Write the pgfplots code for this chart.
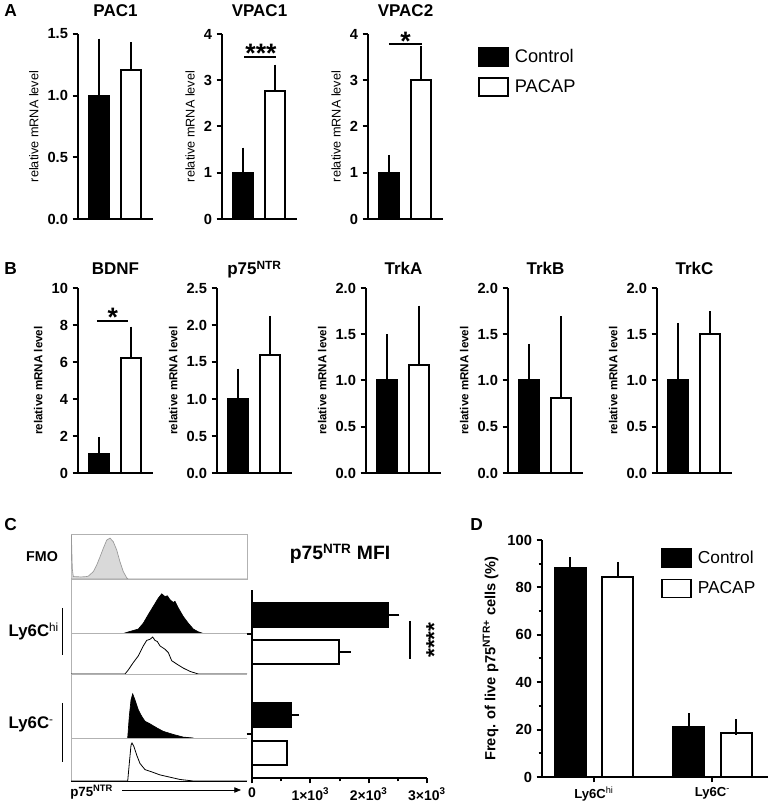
\documentclass[border=0pt]{standalone}
\usepackage{fontspec}
\setmainfont{Liberation Sans}
\usepackage{pgfplots}
\pgfplotsset{compat=1.18}
\usetikzlibrary{arrows.meta}

\newcommand{\fs}[1]{\fontsize{#1}{#1}\selectfont}
\def\H{803}

\pgfplotsset{
  gp/.style={
    scale only axis, anchor=south west, clip=false,
    axis lines=left, axis line style={-, line width=1.5pt},
    tick align=outside, major tick length=4pt, minor tick length=2.5pt,
    tick style={black, line width=1.5pt},
    tick label style={font=\bfseries\fs{11}},
    /pgf/number format/assume math mode=true,
  },
  mrna/.style={gp, width=56.25pt, height=138.75pt,
    xmin=0.36, xmax=2.7, xtick=\empty, ymin=0,
    ylabel={relative mRNA level}, ylabel style={font=\fs{9.5}},
    every axis title/.style={at={(0.5,1)}, anchor=base, yshift=#1, font=\bfseries\fs{12.75}}},
  mrnaB/.style={mrna=9.75pt, ylabel style={font=\bfseries\fs{8.7}}},
  dec/.style={yticklabel style={/pgf/number format/fixed, /pgf/number format/fixed zerofill, /pgf/number format/precision=1}},
  bars/.style={ybar, bar shift=0pt, bar width=15pt, draw=black, line width=1.5pt,
    error bars/y dir=plus, error bars/y explicit,
    error bars/error bar style={line width=1.5pt, black},
    error bars/error mark options={line width=1.5pt, black, mark size=4pt}},
  legbox/.style={legend image code/.code={\draw[##1] (0pt,-6.75pt) rectangle (21.75pt,6.75pt);}},
  leg/.style={legend style={draw=none, fill=none, inner sep=0pt, column sep=4.5pt, row sep=8pt,
    nodes={inner sep=0pt}, font=\fs{#1}}, legend cell align=left},
  hist/.style={scale only axis, anchor=south west, width=132pt, xmin=0, xmax=176, ymin=0,
    ticks=none, axis line style={-, gray!60, line width=0.7pt}},
  histl/.style={hist, axis x line=bottom, axis y line=left, axis line style={-}},
}

\begin{document}
\begin{tikzpicture}[x=0.75pt,y=0.75pt]
\path[use as bounding box] (0,0) rectangle (768,803);
\coordinate (a1) at (78,\H-219);
\coordinate (a2) at (222,\H-219);
\coordinate (a3) at (368,\H-219);
\coordinate (b1) at (78,\H-473);
\coordinate (b2) at (217,\H-473);
\coordinate (b3) at (366,\H-473);
\coordinate (b4) at (508,\H-473);
\coordinate (b5) at (657,\H-473);
\coordinate (h1) at (71,\H-579);
\coordinate (h2) at (71,\H-633);
\coordinate (h3) at (71,\H-674);
\coordinate (h4) at (71,\H-738);
\coordinate (h5) at (71,\H-781);
\coordinate (cb) at (252,\H-778);
\coordinate (dd) at (542,\H-777);

% ---------------- A ----------------
\begin{axis}[mrna=12.75pt, dec, at={(a1)}, ymax=1.5, ytick={0,0.5,1,1.5}, title={PAC1}]
\addplot[bars, fill=black] coordinates {(1,1.0) +- (0,0.42)};
\addplot[bars, fill=white] coordinates {(2,1.21) +- (0,0.18)};
\end{axis}

\begin{axis}[mrna=12.75pt, at={(a2)}, ymax=4, ytick={0,1,2,3,4}, title={VPAC1}]
\addplot[bars, fill=black] coordinates {(1,1.0) +- (0,0.43)};
\addplot[bars, fill=white] coordinates {(2,2.77) +- (0,0.45)};
\draw[line width=1pt] (axis cs:1.05,3.50) -- (axis cs:2.05,3.50);
\node[anchor=base, font=\bfseries\fs{20}] at (axis cs:1.577,3.38) {***};
\end{axis}

\begin{axis}[mrna=12.75pt, at={(a3)}, ymax=4, ytick={0,1,2,3,4}, title={VPAC2},
  leg=13.7, legend style={at={(axis description cs:1.467,0.93)}, anchor=north west}]
\addplot[bars, fill=black, forget plot] coordinates {(1,1.0) +- (0,0.27)};
\addplot[bars, fill=white, forget plot] coordinates {(2,3.01) +- (0,0.62)};
\draw[line width=1pt] (axis cs:1.015,3.784) -- (axis cs:2.045,3.784);
\node[anchor=base, font=\bfseries\fs{20}] at (axis cs:1.53,3.64) {*};
\addlegendimage{legbox, fill=black, draw=black, line width=1.2pt}
\addlegendentry{Control}
\addlegendimage{legbox, fill=white, draw=black, line width=1.2pt}
\addlegendentry{PACAP}
\end{axis}

% ---------------- B ----------------
\begin{axis}[mrnaB, at={(b1)}, ymax=10, ytick={0,2,4,6,8,10}, title={BDNF}]
\addplot[bars, fill=black] coordinates {(1,1.0) +- (0,0.67)};
\addplot[bars, fill=white] coordinates {(2,6.22) +- (0,1.40)};
\draw[line width=1pt] (axis cs:0.95,8.22) -- (axis cs:1.92,8.22);
\node[anchor=base, font=\bfseries\fs{20}] at (axis cs:1.45,7.91) {*};
\end{axis}

\begin{axis}[mrnaB, dec, at={(b2)}, ymax=2.5, ytick={0,0.5,1,1.5,2,2.5}, title={p75\textsuperscript{NTR}}]
\addplot[bars, fill=black] coordinates {(1,1.0) +- (0,0.34)};
\addplot[bars, fill=white] coordinates {(2,1.60) +- (0,0.45)};
\end{axis}

\begin{axis}[mrnaB, dec, at={(b3)}, ymax=2, ytick={0,0.5,1,1.5,2}, title={TrkA}]
\addplot[bars, fill=black] coordinates {(1,1.0) +- (0,0.445)};
\addplot[bars, fill=white] coordinates {(2,1.168) +- (0,0.583)};
\end{axis}

\begin{axis}[mrnaB, dec, at={(b4)}, ymax=2, ytick={0,0.5,1,1.5,2}, title={TrkB}]
\addplot[bars, fill=black] coordinates {(1,1.0) +- (0,0.337)};
\addplot[bars, fill=white] coordinates {(2,0.814) +- (0,0.822)};
\end{axis}

\begin{axis}[mrnaB, dec, at={(b5)}, ymax=2, ytick={0,0.5,1,1.5,2}, title={TrkC}]
\addplot[bars, fill=black] coordinates {(1,1.0) +- (0,0.564)};
\addplot[bars, fill=white] coordinates {(2,1.50) +- (0,0.19)};
\end{axis}

% ---------------- C: histograms ----------------
\begin{axis}[hist, at={(h1)}, height=33.75pt, ymax=110]
\addplot[fill=gray!30, draw=gray!80, line width=0.5pt] coordinates {
 (0,0) (0.4,108) (1.3,25) (2.3,6) (10,5) (15.7,6) (17.3,7) (22.3,18) (25.7,34) (29,54)
 (32.3,75) (35.7,95) (39,100) (42.3,91) (45.7,71) (49,42) (52.3,18) (55.7,3) (57.3,0) (176,0)} \closedcycle;
\end{axis}
\begin{axis}[histl, at={(h2)}, height=40.5pt, ymax=138]
\addplot[fill=black, draw=black, line width=0.5pt] coordinates {
 (54,0) (59,4) (67.3,10) (72.3,25) (77.3,47) (82.3,68) (87.3,89) (90.7,100) (94,93) (96.3,95)
 (99,85) (102.3,78) (104,81) (107.3,64) (112.3,42) (117.3,25) (122.3,10) (127.3,3) (130.7,0)} \closedcycle;
\end{axis}
\begin{axis}[histl, at={(h3)}, height=30.75pt, ymax=111]
\addplot[draw=black, line width=0.6pt] coordinates {
 (0,0) (54,0) (57.3,11) (62.3,31) (67.3,49) (72.3,76) (75.7,91) (79,94) (81.7,100) (84,91)
 (86.3,88) (89,76) (94,67) (97.3,58) (100.7,36) (105.7,27) (112.3,16) (119,7) (127.3,0) (176,0)};
\end{axis}
\begin{axis}[histl, at={(h4)}, height=48pt, ymax=145]
\addplot[fill=black, draw=black, line width=0.5pt] coordinates {
 (56.7,0) (58.3,49) (60,86) (61.7,100) (64,86) (67.3,64) (70.7,49) (74,38) (79,32) (85.7,23)
 (92.3,15) (102.3,8) (112.3,2) (122.3,0)} \closedcycle;
\end{axis}
\begin{axis}[histl, at={(h5)}, height=32.25pt, ymax=113, x axis line style={black}]
\addplot[draw=black, line width=0.6pt] coordinates {
 (0,0) (56.7,0) (58.3,46) (60,94) (61,100) (63,90) (65.7,68) (69,46) (74,30) (80.7,24)
 (89,16) (99,10) (109,4) (122.3,0) (176,0)};
\end{axis}

\node[anchor=base, font=\bfseries\fs{10.7}] at (42,\H-562) {FMO};
\node[anchor=base west, font=\bfseries\fs{12.6}] at (4,\H-637) {Ly6C\textsuperscript{\mdseries hi}};
\node[anchor=base west, font=\bfseries\fs{12.6}] at (4,\H-729) {Ly6C\textsuperscript{\mdseries -}};
\draw[line width=1pt] (62.7,\H-608) -- (62.7,\H-655);
\draw[line width=1pt] (62.7,\H-703) -- (62.7,\H-762);
\node[anchor=base west, font=\bfseries\fs{10}, inner sep=0pt] at (70,\H-796) {p75\textsuperscript{NTR}};
\draw[-{Triangle[length=5pt,width=4pt]}, line width=0.6pt] (122,\H-790) -- (241,\H-790);

% ---------------- C: MFI bars ----------------
\node[anchor=base, font=\bfseries\fs{14.5}] at (340,\H-560) {p75\textsuperscript{NTR} MFI};
\begin{axis}[gp, at={(cb)}, width=131.25pt, height=141pt,
  xmin=0, xmax=3000, ymin=0.56, ymax=2.44,
  xtick={0,1000,2000,3000}, minor x tick num=1,
  xticklabels={0,1×10\textsuperscript{3},2×10\textsuperscript{3},3×10\textsuperscript{3}},
  xticklabel style={font=\bfseries\fs{10.5}},
  ytick={1,2}, yticklabels={}]
\addplot[xbar, bar shift=0pt, bar width=18pt, fill=black, draw=black, line width=1.5pt,
  error bars/x dir=plus, error bars/x explicit,
  error bars/error bar style={line width=1.5pt, black},
  error bars/error mark options={line width=1.5pt, black, mark size=3.75pt}]
  coordinates {(2330,2.19) +- (110,0) (660,1.19) +- (60,0)};
\addplot[xbar, bar shift=0pt, bar width=18pt, fill=white, draw=black, line width=1.5pt,
  error bars/x dir=plus, error bars/x explicit,
  error bars/error bar style={line width=1.5pt, black},
  error bars/error mark options={line width=1.5pt, black, mark size=3.75pt}]
  coordinates {(1490,1.815) +- (120,0) (600,0.805) +- (0,0)};
\draw[line width=1pt] (axis cs:2709,2.13) -- (axis cs:2709,1.75);
\node[anchor=base, rotate=90, font=\bfseries\fs{17}] at (axis cs:3257,1.94) {****};
\end{axis}

% ---------------- D ----------------
\begin{axis}[gp, at={(dd)}, width=169.5pt, height=177.75pt,
  xmin=-0.44, xmax=1.47, ymin=0, ymax=100,
  ytick={0,20,40,60,80,100}, minor y tick num=1,
  xtick={0,1}, xticklabels={Ly6C\textsuperscript{\mdseries hi}, Ly6C\textsuperscript{\mdseries -}},
  xticklabel style={font=\bfseries\fs{9.8}},
  ylabel={Freq. of live p75\textsuperscript{NTR+} cells (\%)}, ylabel style={font=\bfseries\fs{11}},
  leg=13, legend style={at={(axis description cs:0.5265,0.966)}, anchor=north west}]
\addplot[ybar, bar shift=0pt, bar width=23.25pt, fill=black, draw=black, line width=1.5pt, forget plot,
  error bars/y dir=plus, error bars/y explicit,
  error bars/error bar style={line width=1.5pt, black},
  error bars/error mark options={line width=1.5pt, black, mark size=6pt}]
  coordinates {(-0.2,88.3) +- (0,1.0) (0.8,21.1) +- (0,2.5)};
\addplot[ybar, bar shift=0pt, bar width=23.25pt, fill=white, draw=black, line width=1.5pt, forget plot,
  error bars/y dir=plus, error bars/y explicit,
  error bars/error bar style={line width=1.5pt, black},
  error bars/error mark options={line width=1.5pt, black, mark size=6pt}]
  coordinates {(0.2,84.2) +- (0,3.2) (1.2,18.6) +- (0,2.3)};
\addlegendimage{legbox, fill=black, draw=black, line width=1.2pt}
\addlegendentry{Control}
\addlegendimage{legbox, fill=white, draw=black, line width=1.2pt}
\addlegendentry{PACAP}
\end{axis}

% panel letters
\node[anchor=base west, font=\bfseries\fs{13}, inner sep=0pt] at (4,\H-17) {A};
\node[anchor=base west, font=\bfseries\fs{13}, inner sep=0pt] at (4,\H-275) {B};
\node[anchor=base west, font=\bfseries\fs{13}, inner sep=0pt] at (4,\H-531) {C};
\node[anchor=base west, font=\bfseries\fs{13}, inner sep=0pt] at (470,\H-531) {D};
\end{tikzpicture}
\end{document}
